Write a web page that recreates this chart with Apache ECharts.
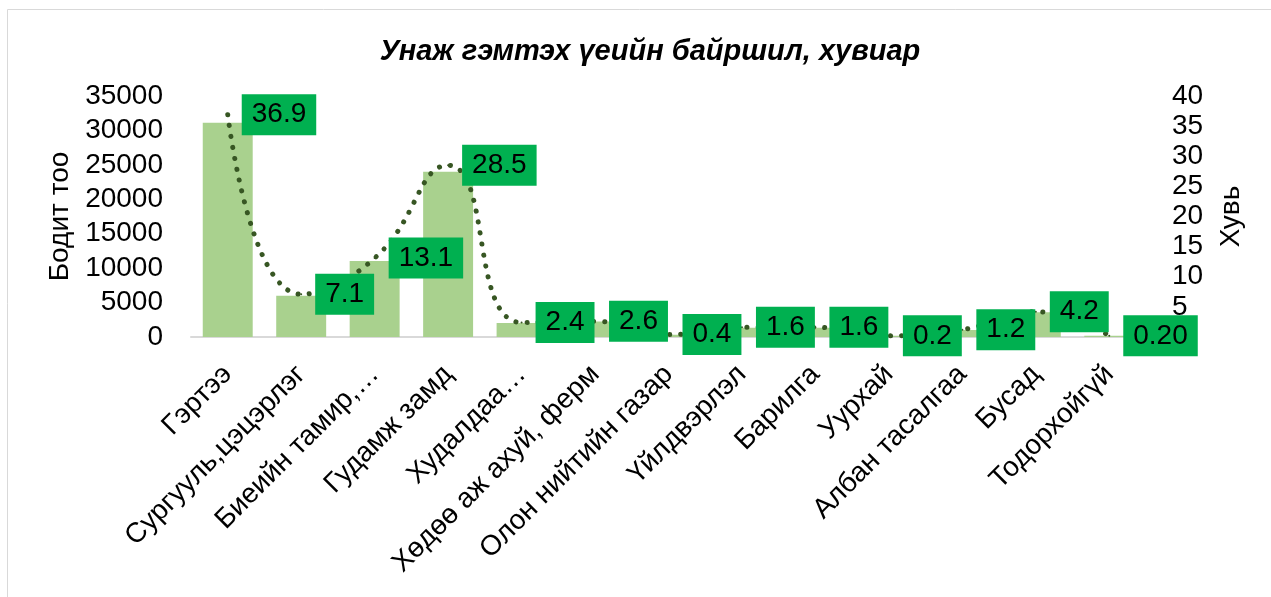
<!DOCTYPE html>
<html><head><meta charset="utf-8">
<script src="https://cdn.jsdelivr.net/npm/echarts@6/dist/echarts.min.js"></script>
<style>html,body{margin:0;padding:0;background:#fff}#c{width:1271px;height:597px}</style>
</head><body><div id="c"></div>
<script>
const titleText = 'Унаж гэмтэх үеийн байршил, хувиар';
const categories = ['Гэртээ','Сургууль,цэцэрлэг','Биеийн тамир,…','Гудамж замд','Худалдаа…','Хөдөө аж ахуй, ферм','Олон нийтийн газар','Үйлдвэрлэл','Барилга','Уурхай','Албан тасалгаа','Бусад','Тодорхойгүй'];
const counts = [31100, 5980, 11030, 24000, 2020, 2250, 340, 1350, 1350, 170, 1010, 3600, 170];
const percents = [36.9, 7.1, 13.1, 28.5, 2.4, 2.6, 0.4, 1.6, 1.6, 0.2, 1.2, 4.2, 0.2];
const percentLabels = ['36.9','7.1','13.1','28.5','2.4','2.6','0.4','1.6','1.6','0.2','1.2','4.2','0.20'];
const leftTicks = {min: 0, max: 35000, interval: 5000};
const rightTicks = {min: 0, max: 40, interval: 5};

const chart = echarts.init(document.getElementById('c'));
const font = 'Liberation Sans, Arial, sans-serif';
chart.setOption({
  animation: false,
  textStyle: {fontFamily: font},
  graphic: [{type: 'rect', shape: {x: 7.5, y: 9.5, width: 1300, height: 700}, style: {fill: 'none', stroke: '#D9D9D9', lineWidth: 1}, silent: true}],
  title: {text: titleText, left: 645, top: 32, textAlign: 'center',
    textStyle: {fontFamily: font, fontSize: 29, fontWeight: 'bold', fontStyle: 'italic', color: '#000'}},
  grid: {left: 191, right: 125, top: 96, bottom: 260},
  xAxis: {type: 'category', data: categories,
    axisLine: {lineStyle: {color: '#D9D9D9', width: 2}}, axisTick: {show: false},
    axisLabel: {rotate: 45, fontSize: 28, color: '#000', margin: 33, interval: 0}},
  yAxis: [
    {type: 'value', min: leftTicks.min, max: leftTicks.max, interval: leftTicks.interval,
     name: 'Бодит тоо', nameLocation: 'middle', nameGap: 116, nameRotate: 90,
     nameTextStyle: {fontSize: 28, color: '#000'},
     splitLine: {show: false}, axisLine: {show: false}, axisTick: {show: false},
     axisLabel: {fontSize: 28, color: '#000', margin: 28, formatter: v => String(v)}},
    {type: 'value', min: rightTicks.min, max: rightTicks.max, interval: rightTicks.interval,
     name: 'Хувь', nameLocation: 'middle', nameGap: 71, nameRotate: 90,
     nameTextStyle: {fontSize: 28, color: '#000'},
     splitLine: {show: false}, axisLine: {show: false}, axisTick: {show: false},
     axisLabel: {fontSize: 28, color: '#000', margin: 26, formatter: v => String(v)}}
  ],
  series: [
    {type: 'bar', data: counts, yAxisIndex: 0, barCategoryGap: '32%',
     itemStyle: {color: '#A9D18E'}},
    {type: 'line', data: percents, yAxisIndex: 1, smooth: 0.5,
     symbol: 'circle', symbolSize: 2, showSymbol: true, itemStyle: {color: '#375623'},
     lineStyle: {color: '#375623', width: 5, type: [0.1, 11], cap: 'round'},
     label: {show: true, position: 'right', distance: 13, fontSize: 28, color: '#000',
       backgroundColor: '#00B050', padding: [7, 10, 6, 10],
       formatter: p => percentLabels[p.dataIndex]}, z: 3}
  ]
});
</script></body></html>
